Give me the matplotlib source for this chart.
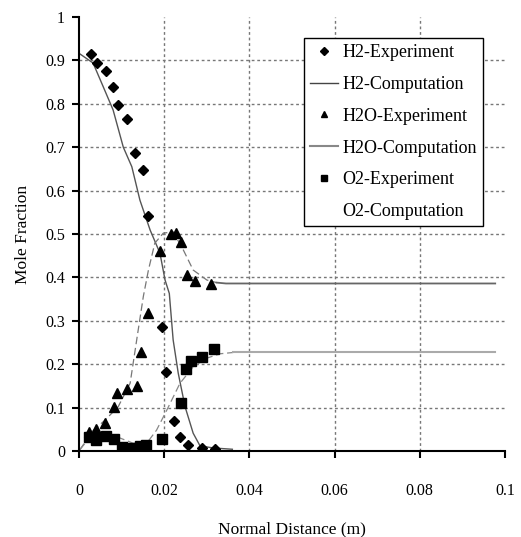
import matplotlib.pyplot as plt
import numpy as np
from matplotlib.lines import Line2D

plt.rcParams['font.family'] = ['Liberation Serif', 'DejaVu Serif']

# experiment points
h2_x = [0.0028, 0.0043, 0.0063, 0.0080, 0.0092, 0.0112, 0.0131, 0.0150, 0.0163,
        0.0196, 0.0205, 0.0224, 0.0236, 0.0257, 0.0288, 0.0320]
h2_y = [0.915, 0.893, 0.875, 0.839, 0.797, 0.765, 0.687, 0.647, 0.541,
        0.286, 0.181, 0.068, 0.032, 0.014, 0.006, 0.005]

h2o_x = [0.0024, 0.0041, 0.0061, 0.0081, 0.0090, 0.0113, 0.0137, 0.0145, 0.0163,
         0.0189, 0.0216, 0.0228, 0.0240, 0.0254, 0.0272, 0.0311]
h2o_y = [0.044, 0.050, 0.064, 0.102, 0.134, 0.144, 0.150, 0.227, 0.317,
         0.461, 0.500, 0.502, 0.482, 0.406, 0.392, 0.385]

o2_x = [0.0024, 0.0040, 0.0063, 0.0081, 0.0100, 0.0120, 0.0143, 0.0157, 0.0196,
        0.0240, 0.0250, 0.0263, 0.0288, 0.0318]
o2_y = [0.032, 0.025, 0.035, 0.027, 0.010, 0.006, 0.012, 0.014, 0.027,
        0.111, 0.190, 0.208, 0.217, 0.234]

# computation curves
h2c_x = [0.0002, 0.0033, 0.0057, 0.0080, 0.0104, 0.0124, 0.0143, 0.0167, 0.0190,
         0.0202, 0.0212, 0.0221, 0.0233, 0.0249, 0.0268, 0.0284, 0.0315, 0.0360]
h2c_y = [0.915, 0.894, 0.839, 0.786, 0.700, 0.655, 0.578, 0.509, 0.456,
         0.394, 0.363, 0.256, 0.179, 0.102, 0.041, 0.012, 0.007, 0.004]

h2oc_x = [0.0002, 0.0034, 0.0061, 0.0092, 0.0120, 0.0139, 0.0151, 0.0163, 0.0178,
          0.0198, 0.0221, 0.0245, 0.0268, 0.0300, 0.0323, 0.0345, 0.0977]
h2oc_y = [0.003, 0.048, 0.071, 0.102, 0.156, 0.279, 0.356, 0.417, 0.479,
          0.502, 0.505, 0.463, 0.417, 0.394, 0.388, 0.386, 0.386]

o2c_x = [0.0002, 0.0030, 0.0065, 0.0096, 0.0127, 0.0159, 0.0182, 0.0206, 0.0237,
         0.0268, 0.0300, 0.0331, 0.0362, 0.0977]
o2c_y = [0.003, 0.037, 0.039, 0.030, 0.018, 0.018, 0.048, 0.094, 0.156,
         0.194, 0.214, 0.224, 0.227, 0.227]

labels = ['H2-Experiment', 'H2-Computation', 'H2O-Experiment',
          'H2O-Computation', 'O2-Experiment', 'O2-Computation']

fig = plt.figure(figsize=(5.21, 5.37), dpi=100)
ax = fig.add_axes([79 / 521, 86 / 537, 426 / 521, 434 / 537])

ax.plot(h2c_x, h2c_y, '-', color='#555555', lw=1.0, zorder=2)
ax.plot(h2oc_x[:-2], h2oc_y[:-2], '--', color='#777777', lw=0.9, dashes=(6, 3), zorder=2)
ax.plot(h2oc_x[-3:], h2oc_y[-3:], '-', color='#666666', lw=1.3, zorder=2)
ax.plot(o2c_x[:-1], o2c_y[:-1], '--', color='#888888', lw=0.9, dashes=(6, 3), zorder=2)
ax.plot(o2c_x[-2:], o2c_y[-2:], '-', color='#aaaaaa', lw=1.5, zorder=2)

ax.plot(h2_x, h2_y, 'D', color='black', ms=5.5, zorder=3)
ax.plot(h2o_x, h2o_y, '^', color='black', ms=7, zorder=3)
ax.plot(o2_x, o2_y, 's', color='black', ms=6.5, zorder=3)

ax.set_xlim(0, 0.1)
ax.set_ylim(0, 1)
ax.set_xticks([0, 0.02, 0.04, 0.06, 0.08, 0.1])
ax.set_xticklabels(['0', '0.02', '0.04', '0.06', '0.08', '0.1'])
ax.set_yticks(np.arange(0, 1.01, 0.1))
ax.set_yticklabels(['0', '0.1', '0.2', '0.3', '0.4', '0.5', '0.6', '0.7', '0.8', '0.9', '1'])

for y in np.arange(0.1, 0.95, 0.1):
    ax.axhline(y, color='#777777', ls=(0, (2, 2)), lw=1.0, zorder=1)
for x in [0.02, 0.04, 0.06, 0.08]:
    ax.axvline(x, color='#777777', ls=(0, (2, 2)), lw=1.0, zorder=1)

ax.spines['top'].set_visible(False)
ax.spines['right'].set_visible(False)
ax.spines['left'].set_linewidth(1.5)
ax.spines['bottom'].set_linewidth(1.5)
ax.tick_params(axis='x', direction='out', length=5, width=1.5, pad=18, labelsize=11.5)
ax.tick_params(axis='y', direction='out', length=5, width=1.5, pad=5, labelsize=11.5)

ax.set_xlabel('Normal Distance (m)', fontsize=12.5, labelpad=16)
ax.set_ylabel('Mole Fraction', fontsize=12.5, labelpad=10)

handles = [
    Line2D([], [], marker='D', color='black', ls='none', ms=4),
    Line2D([], [], color='#444444', lw=1.0),
    Line2D([], [], marker='^', color='black', ls='none', ms=5),
    Line2D([], [], color='#888888', lw=1.5),
    Line2D([], [], marker='s', color='black', ls='none', ms=4.5),
    Line2D([], [], color='white', lw=1.0),
]
leg = ax.legend(handles, labels, loc='upper right', bbox_to_anchor=(0.948, 0.952),
                fontsize=13, frameon=True, fancybox=False, edgecolor='black',
                framealpha=1, handlelength=1.5, handletextpad=0.25,
                labelspacing=0.82, borderpad=0.35, borderaxespad=0)
leg.get_frame().set_linewidth(1.0)
leg.set_zorder(5)

fig.savefig('out.png', dpi=100)
